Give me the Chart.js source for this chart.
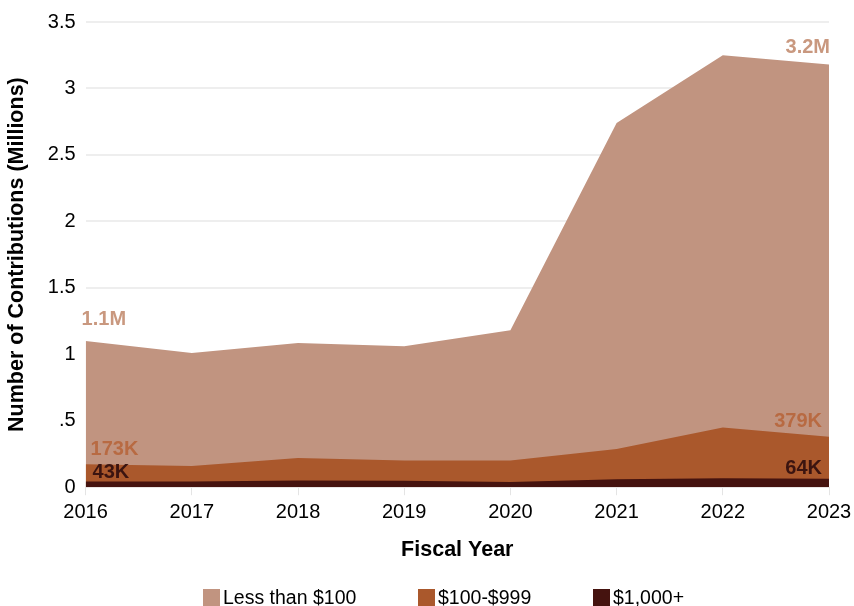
<!DOCTYPE html>
<html>
<head>
<meta charset="utf-8">
<script src="https://cdn.jsdelivr.net/npm/chart.js@4"></script>
<style>
  html, body { margin: 0; padding: 0; background: #fff; }
  #wrap { position: relative; width: 854px; height: 606px; }
  #legend { position: absolute; left: 0; top: 586px; width: 854px; height: 20px;
            font: 19.5px "Liberation Sans", Arial, sans-serif; color: #000; }
  #legend .item { position: absolute; top: 0; display: flex; align-items: center; white-space: nowrap; }
  #legend .box { width: 17px; height: 18px; margin-right: 3px; }
</style>
</head>
<body>
<div id="wrap">
  <canvas id="contribChart" width="854" height="606"></canvas>
  <div id="legend"></div>
</div>
<script>
// fiscal years on the x axis
const years = ['2016', '2017', '2018', '2019', '2020', '2021', '2022', '2023'];
// number of contributions, in millions
const lessThan100 = [1.10, 1.01, 1.085, 1.06, 1.18, 2.74, 3.25, 3.18];
const from100to999 = [0.173, 0.16, 0.22, 0.20, 0.20, 0.287, 0.45, 0.379];
const over1000 = [0.043, 0.042, 0.05, 0.048, 0.04, 0.06, 0.068, 0.064];
// y tick labels as printed
const yTickLabels = ['0', '.5', '1', '1.5', '2', '2.5', '3', '3.5'];
// labels at the first and last year of each series
const firstLabels = ['1.1M', '173K', '43K'];
const lastLabels = ['3.2M', '379K', '64K'];

const FONT = '"Liberation Sans", Arial, sans-serif';
const areaColors = ['#c19480', '#aa582c', '#45130f'];
const labelColors = ['#c9987f', '#b86a42', '#3b1410'];

// end labels drawn next to the first / last point of each area
const endLabelPlugin = {
  id: 'endLabels',
  afterDatasetsDraw(chart) {
    const ctx = chart.ctx;
    const firstOff = [[-4, -22], [5, -15], [7, -9]];
    const lastOff = [[1, -17], [-7, -15], [-7, -10]];
    ctx.save();
    ctx.font = 'bold 20px ' + FONT;
    ctx.textBaseline = 'middle';
    chart.data.datasets.forEach((ds, i) => {
      const pts = chart.getDatasetMeta(i).data;
      const p0 = pts[0], p1 = pts[pts.length - 1];
      ctx.fillStyle = labelColors[i];
      ctx.textAlign = 'left';
      ctx.fillText(firstLabels[i], p0.x + firstOff[i][0], p0.y + firstOff[i][1]);
      ctx.textAlign = 'right';
      ctx.fillText(lastLabels[i], p1.x + lastOff[i][0], p1.y + lastOff[i][1]);
    });
    ctx.restore();
  }
};

const ctx = document.getElementById('contribChart').getContext('2d');
const chart = new Chart(ctx, {
  type: 'line',
  data: {
    labels: years,
    datasets: [
      { label: 'Less than $100', data: lessThan100, order: 3 },
      { label: '$100-$999', data: from100to999, order: 2 },
      { label: '$1,000+', data: over1000, order: 1 }
    ].map((d, i) => Object.assign(d, {
      backgroundColor: areaColors[i],
      borderColor: areaColors[i],
      borderWidth: 0,
      pointRadius: 0,
      tension: 0,
      fill: 'origin'
    }))
  },
  options: {
    responsive: false,
    animation: false,
    layout: { padding: { top: 8, right: 0, bottom: 43, left: 4 } },
    plugins: {
      legend: { display: false },
      tooltip: { enabled: false }
    },
    scales: {
      x: {
        offset: false,
        afterFit: (scale) => { scale.paddingRight = 25; },
        grid: { drawOnChartArea: false, drawTicks: true, tickLength: 8, color: '#e4e4e4' },
        border: { display: false },
        ticks: { color: '#000', font: { family: FONT, size: 20 }, padding: 5, maxRotation: 0 },
        title: { display: true, text: 'Fiscal Year', color: '#000',
                 font: { family: FONT, size: 21.5, weight: 'bold' }, padding: { top: 8, bottom: 0 } }
      },
      y: {
        min: 0, max: 3.5,
        grid: { color: '#eeeeee', lineWidth: 2, drawTicks: false },
        border: { display: false },
        ticks: {
          stepSize: 0.5, color: '#000', padding: 10,
          font: { family: FONT, size: 20 },
          callback: (v) => yTickLabels[Math.round(v / 0.5)]
        },
        title: { display: true, text: 'Number of Contributions (Millions)', color: '#000',
                 font: { family: FONT, size: 21.5, weight: 'bold' }, padding: { top: 0, bottom: 8 } }
      }
    }
  },
  plugins: [endLabelPlugin]
});

// html legend built from the datasets
const legendEl = document.getElementById('legend');
const legendX = [203, 418, 593];
chart.data.datasets.forEach((ds, i) => {
  const item = document.createElement('div');
  item.className = 'item';
  item.style.left = legendX[i] + 'px';
  const box = document.createElement('span');
  box.className = 'box';
  box.style.background = ds.backgroundColor;
  const txt = document.createElement('span');
  txt.textContent = ds.label;
  item.appendChild(box);
  item.appendChild(txt);
  legendEl.appendChild(item);
});
</script>
</body>
</html>
